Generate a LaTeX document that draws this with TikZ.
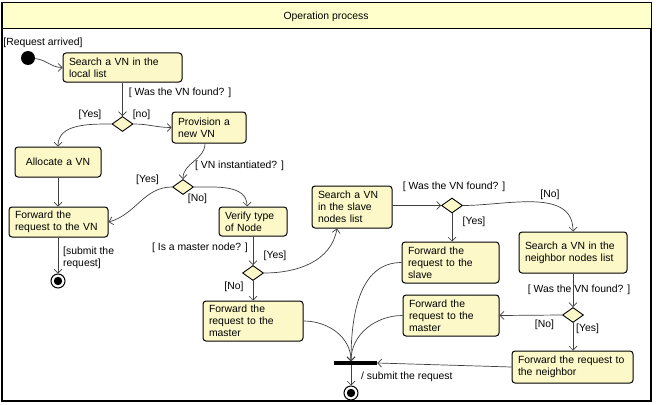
\documentclass[tikz,border=0pt]{standalone}
\usepackage{fontspec}
\setmainfont{Liberation Sans}
\usetikzlibrary{shapes.geometric,arrows.meta}

\definecolor{actFill}{HTML}{FCF8C8}
\definecolor{headFill}{HTML}{FFFFCC}
\definecolor{flowColour}{HTML}{404040}

\tikzset{
    every node/.style={font=\fontsize{10.4}{12}\selectfont},
    actbox/.style={draw, line width=1pt, fill=actFill, rounded corners=3pt,
        inner xsep=6pt, inner ysep=2pt, align=left},
    decision/.style={diamond, draw, line width=0.9pt, fill=actFill, inner sep=0pt,
        minimum width=21pt, minimum height=15pt},
    initnode/.style={circle, fill=black, minimum size=14pt, inner sep=0pt},
    finalnode/.style={circle, draw, line width=1pt, minimum size=14pt, inner sep=0pt,
        path picture={\fill (path picture bounding box.center) circle (4.2pt);}},
    flow/.style={draw=flowColour, line width=0.7pt, -{Straight Barb[length=4pt,width=8pt]}},
    guard/.style={inner sep=0pt}
}

\begin{document}
\begin{tikzpicture}[x=1pt, y=-1pt]
    \useasboundingbox (0,0) rectangle (658,404);

    % Frame and header
    \draw[line width=1.3pt] (2,3) rectangle (651,401);
    \filldraw[fill=headFill, line width=1pt] (2,3) rectangle (651,29);
    \node (title) at (326,17) {Operation process};

    % Start
    \node[initnode] (start) at (28,58) {};
    \node[guard] (arrived) at (43,43) {[Request arrived]};

    % Activities
    \node[actbox, text width=107pt, minimum height=29pt] (search) at (122.5,67.5) {Search a VN in the\\local list};
    \node[actbox, text width=62pt, minimum height=31pt] (provision) at (209,127.5) {Provision a\\new VN};
    \node[actbox, text width=74pt, minimum height=30pt, align=center] (allocate) at (58,162) {Allocate a VN};
    \node[actbox, text width=87pt, minimum height=30pt] (fwdvn) at (58.5,222) {Forward the\\request to the VN};
    \node[actbox, text width=56pt, minimum height=29pt] (verify) at (253,221.5) {Verify type\\of Node};
    \node[actbox, text width=68pt, minimum height=42pt] (slave) at (352,207) {Search a VN\\in the slave\\nodes list};
    \node[actbox, text width=88pt, minimum height=40pt] (fwdmaster) at (253,321) {Forward the\\request to the\\master};
    \node[actbox, text width=85pt, minimum height=41pt] (fwdslave) at (450.5,262.5) {Forward the\\request to the\\slave};
    \node[actbox, text width=96pt, minimum height=41pt] (neighbor) at (573,252.5) {Search a VN in the\\neighbor nodes list};
    \node[actbox, text width=84pt, minimum height=41pt] (fwdmasterb) at (451,315.5) {Forward the\\request to the\\master};
    \node[actbox, text width=109pt, minimum height=32pt] (fwdneighbor) at (572.5,367) {Forward the request to\\the neighbor};

    % Decisions
    \node[decision] (found) at (122.5,124) {};
    \node[decision] (inst) at (183,187) {};
    \node[decision] (master) at (253,273) {};
    \node[decision] (foundslave) at (452,205.5) {};
    \node[decision] (foundnb) at (573,315) {};

    % Join bar and final nodes
    \node[fill=black, minimum width=43pt, minimum height=3.5pt, inner sep=0pt] (join) at (355.5,363) {};
    \coordinate (jointop) at (351,361.3);
    \node[finalnode] (endvn) at (58,281) {};
    \node[finalnode] (endall) at (351,393) {};

    % Flows
    \draw[flow] (start) to[out=-5,in=180] (search.west);
    \draw[flow] (search.south) -- (found.north);
    \draw[flow] (found.west) to[out=180,in=90] (allocate.north);
    \draw[flow] (found.east) to[out=0,in=180] (provision.west);
    \draw[flow] (allocate.south) -- (fwdvn.north -| allocate.south);
    \draw[flow] (fwdvn.south -| endvn) -- (endvn.north);
    \draw[flow] ([xshift=-4pt]provision.south) to[out=-90,in=90] (inst.north);
    \draw[flow] (inst.west) to[out=180,in=15] (fwdvn.east);
    \draw[flow] (inst.east) to[out=0,in=90] ([xshift=-6pt]verify.north);
    \draw[flow] (verify.south) -- (master.north);
    \draw[flow] (master.east) to[out=0,in=-100] ([xshift=-15pt]slave.south);
    \draw[flow] (master.south) -- (fwdmaster.north);
    \draw[flow] (fwdmaster.east) to[out=0,in=90] (jointop);
    \draw[flow] (slave.east |- foundslave) -- (foundslave.west);
    \draw[flow] (foundslave.south) -- (foundslave.south |- fwdslave.north);
    \draw[flow] (foundslave.east) to[out=0,in=90] (neighbor.north);
    \draw[flow] (fwdslave.west) to[out=180,in=90] (jointop);
    \draw[flow] (neighbor.south) -- (foundnb.north);
    \draw[flow] (foundnb.west) -- (fwdmasterb.east);
    \draw[flow] (fwdmasterb.west) to[out=180,in=90] (jointop);
    \draw[flow] (foundnb.south) -- (fwdneighbor.north -| foundnb);
    \draw[flow] (fwdneighbor.west) -- (join.east);
    \draw[flow] (join.south -| endall) -- (endall.north);

    % Guards
    \node[guard] (g1) at (180,93) {[ Was the VN found? ]};
    \node[guard] (g1y) at (90,115) {[Yes]};
    \node[guard] (g1n) at (141.5,115) {[no]};
    \node[guard] (g2) at (239.5,166) {[ VN instantiated? ]};
    \node[guard] (g2y) at (147.5,180) {[Yes]};
    \node[guard] (g2n) at (197.5,199) {[No]};
    \node[guard, align=left, anchor=west] (gsub) at (63,258) {[submit the\\request]};
    \node[guard] (g3) at (200,248) {[ Is a master node? ]};
    \node[guard] (g3y) at (275,256) {[Yes]};
    \node[guard] (g3n) at (234,287) {[No]};
    \node[guard] (g4) at (454,187) {[ Was the VN found? ]};
    \node[guard] (g4y) at (474,222) {[Yes]};
    \node[guard] (g4n) at (550,195) {[No]};
    \node[guard] (g5) at (579,290) {[ Was the VN found? ]};
    \node[guard] (g5n) at (544.5,325) {[No]};
    \node[guard] (g5y) at (587.5,329) {[Yes]};
    \node[guard, anchor=west] (gall) at (361,377) {/ submit the request};

\end{tikzpicture}
\end{document}
